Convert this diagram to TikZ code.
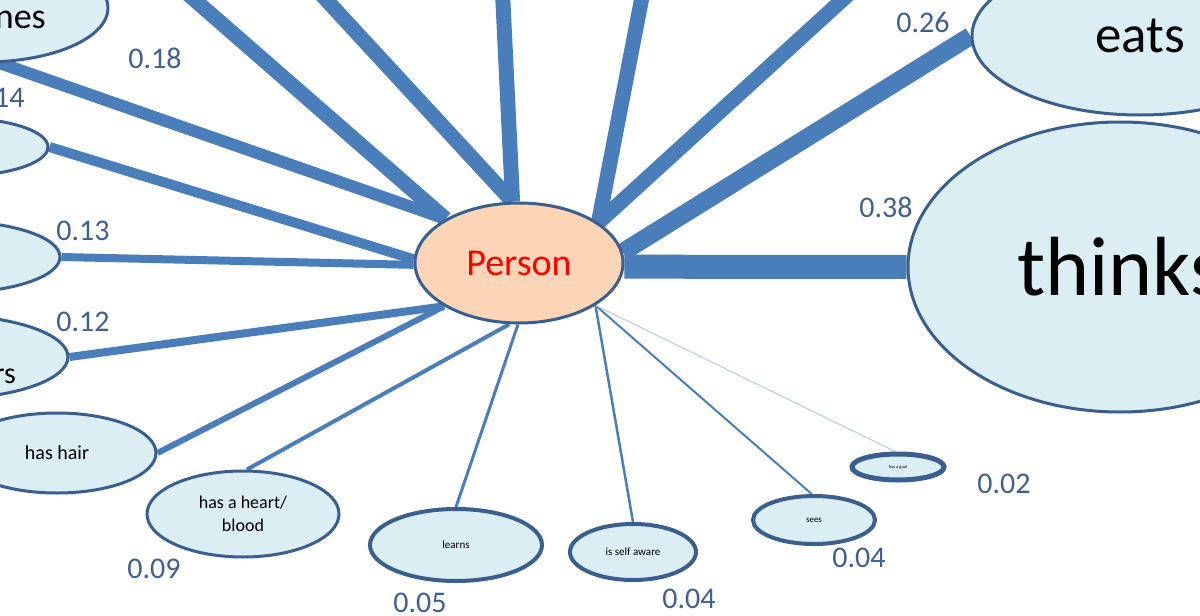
\documentclass[tikz,border=0pt]{standalone}
\usepackage{fontspec}
\setmainfont{Carlito}
\usetikzlibrary{shapes.geometric}
\pgfdeclarelayer{bg}
\pgfsetlayers{bg,main}
\definecolor{edgeblue}{HTML}{4A7EBB}
\definecolor{lightedge}{HTML}{B9CBE4}
\definecolor{nodefill}{HTML}{DBEEF4}
\definecolor{nodeborder}{HTML}{3A5F8E}
\definecolor{personfill}{HTML}{FBD5B5}
\definecolor{labelblue}{HTML}{41608E}
\tikzset{
  concept/.style={ellipse, draw=nodeborder, line width=3pt, fill=nodefill, inner sep=0pt, align=center, text=black},
  weight/.style={text=labelblue, font=\fontsize{30pt}{36pt}\selectfont, inner sep=0pt},
  link/.style={draw=edgeblue, line cap=butt},
  partial/.style={inner sep=0pt, text=black}
}
\begin{document}
\begin{tikzpicture}[x=1pt,y=-1pt]
\useasboundingbox (0,0) rectangle (1200,616);
\begin{pgfonlayer}{bg}
\fill[white] (0,0) rectangle (1200,616);
\end{pgfonlayer}
\clip (0,0) rectangle (1200,616);

% central node
\node[concept, fill=personfill, minimum width=208pt, minimum height=120pt,
      text=red, font=\fontsize{38pt}{44pt}\selectfont] (person) at (519,263) {Person};

% partially visible nodes on the left
\node[concept, minimum width=246pt, minimum height=108pt] (nes) at (-15,8) {};
\node[partial, anchor=base east, font=\fontsize{36pt}{42pt}\selectfont] (nestext) at (46,28) {nes};
\node[concept, minimum width=180pt, minimum height=58pt] (e14) at (-42,147) {};
\node[concept, minimum width=220pt, minimum height=72pt] (e13) at (-50,257) {};
\node[concept, minimum width=250pt, minimum height=84pt] (e12) at (-57,357) {};
\node[partial, anchor=base east, font=\fontsize{30pt}{36pt}\selectfont] (e12text) at (16,383) {rs};

% lower nodes
\node[concept, minimum width=198pt, minimum height=80pt, font=\fontsize{20pt}{24pt}\selectfont] (hair) at (57,453) {has hair};
\node[concept, minimum width=192pt, minimum height=86pt, font=\fontsize{18pt}{23pt}\selectfont] (heart) at (243,514) {has a heart/\\blood};
\node[concept, line width=4pt, minimum width=172pt, minimum height=72pt, font=\fontsize{11pt}{13pt}\selectfont] (learns) at (456,545) {learns};
\node[concept, line width=4pt, minimum width=126pt, minimum height=56pt, font=\fontsize{11pt}{13pt}\selectfont] (self) at (633,552) {is self aware};
\node[concept, line width=4pt, minimum width=122pt, minimum height=48pt, font=\fontsize{9pt}{11pt}\selectfont] (sees) at (814,520) {sees};
\node[concept, line width=5pt, minimum width=92pt, minimum height=26pt, font=\fontsize{4.5pt}{5pt}\selectfont] (goal) at (898,467) {has a goal};

% right nodes
\node[concept, minimum width=424pt, minimum height=290pt, font=\fontsize{84pt}{90pt}\selectfont] (thinks) at (1120,267) {thinks};
\node[concept, minimum width=336pt, minimum height=158pt, font=\fontsize{53pt}{60pt}\selectfont] (eats) at (1140,36) {eats};

% free ends of the connectors leaving the picture at the top
\coordinate (t1) at (126,-60);
\coordinate (t2) at (271,-60);
\coordinate (t3) at (500,-60);
\coordinate (t4) at (653,-60);
\coordinate (t5) at (908,-60);

\begin{pgfonlayer}{bg}
\draw[link, line width=15pt] (t1) -- (person.149);
\draw[link, line width=15pt] (t2) -- (person.96);
\draw[link, line width=15pt] (t3) -- (person.96);
\draw[link, line width=15pt] (t4) -- (person.27);
\draw[link, line width=15pt] (t5) -- (person.27);
\draw[link, line width=12pt] (nes.285) -- (person.149);
\draw[link, line width=10pt] (e14.east) -- (person.178);
\draw[link, line width=8pt] (e13.east) -- (person.181);
\draw[link, line width=8pt] (e12.east) -- (person.210);
\draw[link, line width=6pt] (hair.east) -- (person.210);
\draw[link, line width=4pt] (heart.85) -- (person.261);
\draw[link, line width=3pt] (learns.north) -- (person.269);
\draw[link, line width=2.5pt] (self.north) -- (person.331);
\draw[link, line width=2pt] (sees.95) -- (person.331);
\draw[draw=lightedge, line width=1pt] (goal.100) -- (person.331);
\draw[link, line width=18pt] (eats.west) -- (person.6);
\draw[link, line width=24pt] (thinks.west) -- (person.358);
\end{pgfonlayer}

% weights
\node[weight] (w18) at (155,58) {0.18};
\node[weight] (w14) at (-2,98) {0.14};
\node[weight] (w13) at (83,231) {0.13};
\node[weight] (w12) at (83,322) {0.12};
\node[weight] (w09) at (154,569) {0.09};
\node[weight] (w05) at (420,603) {0.05};
\node[weight] (w04a) at (689,599) {0.04};
\node[weight] (w04b) at (859,558) {0.04};
\node[weight] (w02) at (1004,484) {0.02};
\node[weight] (w38) at (886,207) {0.38};
\node[weight] (w26) at (923,22) {0.26};
\end{tikzpicture}
\end{document}
